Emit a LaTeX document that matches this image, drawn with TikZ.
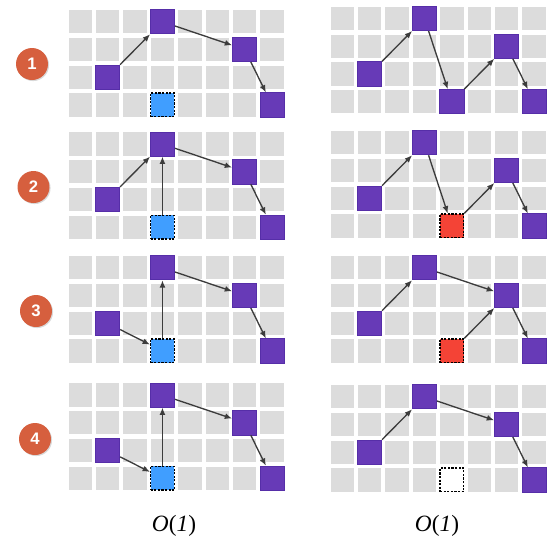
\documentclass[tikz,border=0pt]{standalone}
\usepackage{fontspec}
\setmainfont{Liberation Serif}
\newfontfamily\badgefont{Liberation Sans}
\usetikzlibrary{arrows.meta, shadows}

\definecolor{cellgray}{RGB}{220,220,220}
\definecolor{vpurple}{RGB}{103,58,183}
\definecolor{vpurpleline}{RGB}{86,46,168}
\definecolor{slotblue}{RGB}{64,158,255}
\definecolor{slotred}{RGB}{244,67,54}
\definecolor{badgered}{RGB}{214,95,62}
\definecolor{edgegray}{RGB}{60,60,60}

% gray 8x4 board of the current panel
\newcommand{\cellgrid}{%
  \foreach \c in {0,...,7}
    \foreach \r in {0,...,3}
      \node[cell] at (\c,\r) {};}

\begin{document}
\begin{tikzpicture}[x=0.75pt, y=-0.75pt,
    cell/.style={fill=cellgray, minimum size=17.5pt, inner sep=0pt},
    vert/.style={draw=vpurpleline, line width=0.6pt, fill=vpurple, minimum size=18.2pt, inner sep=0pt},
    slot/.style={draw=black, dash pattern=on 1.6pt off 1.1pt, line width=1pt, minimum size=17.8pt, inner sep=0pt},
    edge/.style={draw=edgegray, line width=1pt, -{Latex[length=5.5pt,width=4.5pt]}},
    badge/.style={circle, fill=badgered, minimum size=24pt, inner sep=0pt, text=white,
      font=\badgefont\bfseries\fontsize{12.5}{12.5}\selectfont,
      drop shadow={shadow xshift=0.8pt, shadow yshift=-0.8pt, opacity=0.3}},
    cost/.style={font=\fontsize{17.5}{20}\selectfont},
    panel/.style={x=20.55pt, y=-20.8pt}]
  \useasboundingbox (0,0) rectangle (550,547);

  % Step badges
  \node[badge] (n1) at (32,64) {1};
  \node[badge] (n2) at (33.5,187) {2};
  \node[badge] (n3) at (36,311) {3};
  \node[badge] (n4) at (35,439) {4};

  % Step 1
  \begin{scope}[shift={(80.25,21.75)}, panel]
    \cellgrid
    \node[vert] (L1a) at (1,2) {};
    \node[vert] (L1b) at (3,0) {};
    \node[vert] (L1c) at (6,1) {};
    \node[vert] (L1d) at (7,3) {};
    \node[slot, fill=slotblue] (L1s) at (3,3) {};
    \draw[edge] (L1a) -- (L1b);
    \draw[edge] (L1b) -- (L1c);
    \draw[edge] (L1c) -- (L1d);
  \end{scope}
  \begin{scope}[shift={(342.25,18.45)}, panel]
    \cellgrid
    \node[vert] (R1a) at (1,2) {};
    \node[vert] (R1b) at (3,0) {};
    \node[vert] (R1c) at (4,3) {};
    \node[vert] (R1d) at (6,1) {};
    \node[vert] (R1e) at (7,3) {};
    \draw[edge] (R1a) -- (R1b);
    \draw[edge] (R1b) -- (R1c);
    \draw[edge] (R1c) -- (R1d);
    \draw[edge] (R1d) -- (R1e);
  \end{scope}

  % Step 2
  \begin{scope}[shift={(80.25,144.05)}, panel]
    \cellgrid
    \node[vert] (L2a) at (1,2) {};
    \node[vert] (L2b) at (3,0) {};
    \node[vert] (L2c) at (6,1) {};
    \node[vert] (L2d) at (7,3) {};
    \node[slot, fill=slotblue] (L2s) at (3,3) {};
    \draw[edge] (L2a) -- (L2b);
    \draw[edge] (L2s) -- (L2b);
    \draw[edge] (L2b) -- (L2c);
    \draw[edge] (L2c) -- (L2d);
  \end{scope}
  \begin{scope}[shift={(342.25,142.75)}, panel]
    \cellgrid
    \node[vert] (R2a) at (1,2) {};
    \node[vert] (R2b) at (3,0) {};
    \node[slot, fill=slotred] (R2c) at (4,3) {};
    \node[vert] (R2d) at (6,1) {};
    \node[vert] (R2e) at (7,3) {};
    \draw[edge] (R2a) -- (R2b);
    \draw[edge] (R2b) -- (R2c);
    \draw[edge] (R2c) -- (R2d);
    \draw[edge] (R2d) -- (R2e);
  \end{scope}

  % Step 3
  \begin{scope}[shift={(80.25,267.75)}, panel]
    \cellgrid
    \node[vert] (L3a) at (1,2) {};
    \node[vert] (L3b) at (3,0) {};
    \node[vert] (L3c) at (6,1) {};
    \node[vert] (L3d) at (7,3) {};
    \node[slot, fill=slotblue] (L3s) at (3,3) {};
    \draw[edge] (L3a) -- (L3s);
    \draw[edge] (L3s) -- (L3b);
    \draw[edge] (L3b) -- (L3c);
    \draw[edge] (L3c) -- (L3d);
  \end{scope}
  \begin{scope}[shift={(342.25,267.75)}, panel]
    \cellgrid
    \node[vert] (R3a) at (1,2) {};
    \node[vert] (R3b) at (3,0) {};
    \node[slot, fill=slotred] (R3c) at (4,3) {};
    \node[vert] (R3d) at (6,1) {};
    \node[vert] (R3e) at (7,3) {};
    \draw[edge] (R3a) -- (R3b);
    \draw[edge] (R3b) -- (R3d);
    \draw[edge] (R3c) -- (R3d);
    \draw[edge] (R3d) -- (R3e);
  \end{scope}

  % Step 4
  \begin{scope}[shift={(80.25,395.05)}, panel]
    \cellgrid
    \node[vert] (L4a) at (1,2) {};
    \node[vert] (L4b) at (3,0) {};
    \node[vert] (L4c) at (6,1) {};
    \node[vert] (L4d) at (7,3) {};
    \node[slot, fill=slotblue] (L4s) at (3,3) {};
    \draw[edge] (L4a) -- (L4s);
    \draw[edge] (L4s) -- (L4b);
    \draw[edge] (L4b) -- (L4c);
    \draw[edge] (L4c) -- (L4d);
  \end{scope}
  \begin{scope}[shift={(342.25,396.75)}, panel]
    \cellgrid
    \node[vert] (R4a) at (1,2) {};
    \node[vert] (R4b) at (3,0) {};
    \node[slot, fill=white] (R4c) at (4,3) {};
    \node[vert] (R4d) at (6,1) {};
    \node[vert] (R4e) at (7,3) {};
    \draw[edge] (R4a) -- (R4b);
    \draw[edge] (R4b) -- (R4d);
    \draw[edge] (R4d) -- (R4e);
  \end{scope}

  % Costs
  \node[cost] (costL) at (174,526) {\textit{O}(\textit{1})};
  \node[cost] (costR) at (437,526) {\textit{O}(\textit{1})};
\end{tikzpicture}
\end{document}
